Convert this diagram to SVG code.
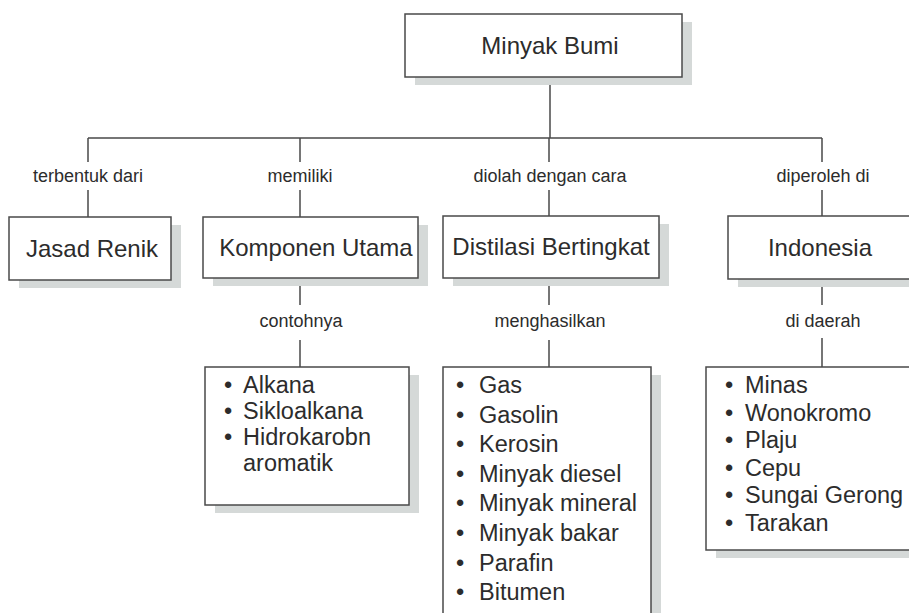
<svg xmlns="http://www.w3.org/2000/svg" width="909" height="613" viewBox="0 0 909 613">
<style>
.bg{fill:#ffffff}
.sh{fill:#d5d9d8}
.box{fill:#ffffff;stroke:#4a4a4a;stroke-width:1.5}
.ln{fill:none;stroke:#4a4a4a;stroke-width:1.5}
.t{font-family:"Liberation Sans",Arial,sans-serif;fill:#2c2c2c}
.bt{font-size:24px;text-anchor:middle}
.lb{font-size:18px;text-anchor:middle}
.li{font-size:23.5px}
</style>
<rect class="bg" x="0" y="0" width="909" height="613"/>
<g id="connectors">
<path class="ln" d="M550 77V138M88 138H822M88 138V162M88 190V217M300 138V162M300 190V217M549 138V162M549 190V216M822 138V162M822 190V216M300 286V305M300 340V367M549 286V305M549 340V367M822 287V305M822 338V367"/>
<text class="t lb" x="88" y="182">terbentuk dari</text>
<text class="t lb" x="300" y="182">memiliki</text>
<text class="t lb" x="550" y="182">diolah dengan cara</text>
<text class="t lb" x="823" y="182">diperoleh di</text>
<text class="t lb" x="301" y="327">contohnya</text>
<text class="t lb" x="550" y="327">menghasilkan</text>
<text class="t lb" x="823" y="327">di daerah</text>
</g>
<g id="minyak-bumi">
<rect class="sh" x="415" y="22" width="277" height="63"/>
<rect class="box" x="405" y="14" width="277" height="63"/>
<text class="t bt" x="550" y="54">Minyak Bumi</text>
</g>
<g id="jasad-renik">
<rect class="sh" x="19" y="225" width="162" height="63"/>
<rect class="box" x="9" y="217" width="162" height="63"/>
<text class="t bt" x="92" y="257">Jasad Renik</text>
</g>
<g id="komponen-utama">
<rect class="sh" x="213" y="225" width="215" height="61"/>
<rect class="box" x="203" y="217" width="215" height="61"/>
<text class="t bt" x="316" y="256">Komponen Utama</text>
</g>
<g id="distilasi">
<rect class="sh" x="453" y="224" width="216" height="62"/>
<rect class="box" x="443" y="216" width="216" height="62"/>
<text class="t bt" x="551" y="255">Distilasi Bertingkat</text>
</g>
<g id="indonesia">
<rect class="sh" x="738" y="224" width="187" height="63"/>
<rect class="box" x="728" y="216" width="187" height="63"/>
<text class="t bt" x="820" y="256">Indonesia</text>
</g>
<g id="komponen-list">
<rect class="sh" x="215" y="375" width="204" height="138"/>
<rect class="box" x="205" y="367" width="204" height="138"/>
<text class="t li" y="393"><tspan x="224">•</tspan><tspan x="243">Alkana</tspan></text>
<text class="t li" y="419"><tspan x="224">•</tspan><tspan x="243">Sikloalkana</tspan></text>
<text class="t li" y="445"><tspan x="224">•</tspan><tspan x="243">Hidrokarobn</tspan></text>
<text class="t li" y="471"><tspan x="243">aromatik</tspan></text>
</g>
<g id="hasil-list">
<rect class="sh" x="453" y="375" width="208" height="260"/>
<rect class="box" x="443" y="367" width="208" height="260"/>
<text class="t li" y="393"><tspan x="456">•</tspan><tspan x="479">Gas</tspan></text>
<text class="t li" y="422.6"><tspan x="456">•</tspan><tspan x="479">Gasolin</tspan></text>
<text class="t li" y="452.2"><tspan x="456">•</tspan><tspan x="479">Kerosin</tspan></text>
<text class="t li" y="481.8"><tspan x="456">•</tspan><tspan x="479">Minyak diesel</tspan></text>
<text class="t li" y="511.4"><tspan x="456">•</tspan><tspan x="479">Minyak mineral</tspan></text>
<text class="t li" y="541"><tspan x="456">•</tspan><tspan x="479">Minyak bakar</tspan></text>
<text class="t li" y="570.6"><tspan x="456">•</tspan><tspan x="479">Parafin</tspan></text>
<text class="t li" y="600.2"><tspan x="456">•</tspan><tspan x="479">Bitumen</tspan></text>
</g>
<g id="daerah-list">
<rect class="sh" x="716" y="375" width="209" height="183"/>
<rect class="box" x="706" y="367" width="209" height="183"/>
<text class="t li" y="393"><tspan x="725">•</tspan><tspan x="745">Minas</tspan></text>
<text class="t li" y="420.5"><tspan x="725">•</tspan><tspan x="745">Wonokromo</tspan></text>
<text class="t li" y="448"><tspan x="725">•</tspan><tspan x="745">Plaju</tspan></text>
<text class="t li" y="475.5"><tspan x="725">•</tspan><tspan x="745">Cepu</tspan></text>
<text class="t li" y="503"><tspan x="725">•</tspan><tspan x="745">Sungai Gerong</tspan></text>
<text class="t li" y="530.5"><tspan x="725">•</tspan><tspan x="745">Tarakan</tspan></text>
</g>
</svg>
